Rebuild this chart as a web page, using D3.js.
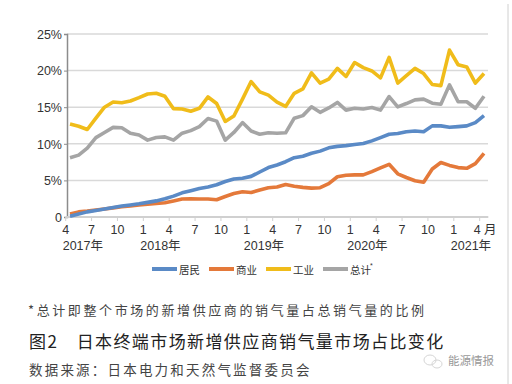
<!DOCTYPE html>
<html><head><meta charset="utf-8">
<script src="https://cdn.jsdelivr.net/npm/d3@7"></script>
<style>
html,body{margin:0;padding:0;background:#fff;}
svg{display:block;}
text{font-family:"Liberation Sans","Noto Sans CJK SC",sans-serif;}
.cjk{font-family:"Noto Sans CJK SC",sans-serif;}
</style></head>
<body>
<svg id="chart" width="512" height="384"></svg>
<script>
const months = ["2017-04","2017-05","2017-06","2017-07","2017-08","2017-09","2017-10","2017-11","2017-12",
"2018-01","2018-02","2018-03","2018-04","2018-05","2018-06","2018-07","2018-08","2018-09","2018-10","2018-11","2018-12",
"2019-01","2019-02","2019-03","2019-04","2019-05","2019-06","2019-07","2019-08","2019-09","2019-10","2019-11","2019-12",
"2020-01","2020-02","2020-03","2020-04","2020-05","2020-06","2020-07","2020-08","2020-09","2020-10","2020-11","2020-12",
"2021-01","2021-02","2021-03","2021-04"];
const seriesNames = ["居民","商业","工业","总计"];
const resident = [0.1,0.4,0.7,0.9,1.1,1.3,1.5,1.65,1.8,2.0,2.2,2.5,2.85,
3.3,3.6,3.9,4.1,4.4,4.85,5.2,5.3,5.55,6.15,6.75,7.1,
7.55,8.1,8.3,8.7,9.0,9.45,9.65,9.75,9.9,10.05,10.4,10.85,
11.3,11.4,11.65,11.75,11.65,12.45,12.45,12.25,12.35,12.45,12.9,13.85];
const commercial = [0.4,0.7,0.8,0.95,1.1,1.25,1.4,1.5,1.65,1.75,1.85,1.95,2.2,
2.45,2.5,2.45,2.45,2.35,2.8,3.2,3.45,3.35,3.7,4.0,4.1,
4.45,4.2,4.05,3.95,4.0,4.55,5.5,5.7,5.75,5.75,6.2,6.7,
7.2,5.9,5.4,4.95,4.75,6.55,7.45,7.05,6.75,6.65,7.3,8.7];
const industrial = [12.7,12.4,11.95,13.5,15.0,15.7,15.6,15.85,16.3,16.8,16.9,16.5,14.8,
14.75,14.45,14.85,16.4,15.5,13.05,13.8,16.1,18.5,17.1,16.65,15.7,
15.1,16.9,17.5,19.7,18.3,18.85,20.3,19.2,21.1,20.4,19.95,19.0,
21.8,18.3,19.3,20.3,19.6,18.1,17.95,22.8,20.8,20.5,18.3,19.6];
const total = [8.1,8.45,9.4,10.85,11.55,12.25,12.2,11.45,11.2,10.5,10.85,10.95,10.5,
11.45,11.8,12.35,13.45,13.1,10.5,11.55,12.9,11.75,11.3,11.5,11.45,
11.5,13.5,13.85,15.05,14.3,14.9,15.65,14.6,14.85,14.75,14.95,14.6,
16.45,15.05,15.5,16.0,16.1,15.55,15.4,18.05,15.75,15.75,14.85,16.5];
const yTicks = [0,5,10,15,20,25];
const colors = ["#5a8ac6","#e4793a","#f0bc1a","#a5a5a5"];

const svg = d3.select("#chart");
svg.append("rect").attr("width",512).attr("height",384).attr("fill","#fff");
// right frame line
svg.append("line").attr("x1",508).attr("x2",508).attr("y1",4).attr("y2",384).attr("stroke","#d0d0d0").attr("stroke-width",1);

const x = d3.scaleBand().domain(months).range([65.7,488.3]).padding(0);
const bw = x.bandwidth();
const cx = m => x(m) + bw/2;
const y = d3.scaleLinear().domain([0,25]).range([217,34]);

// gridlines
svg.append("g").selectAll("line").data(yTicks.filter(d=>d>0)).join("line")
  .attr("x1",67).attr("x2",488).attr("y1",d=>y(d)).attr("y2",d=>y(d))
  .attr("stroke","#d9d9d9").attr("stroke-width",1.5);

// y axis
const yAxis = d3.axisLeft(y).tickValues(yTicks).tickSize(3).tickPadding(2)
  .tickFormat(d=> d===0 ? "0" : d+"%");
const gy = svg.append("g").attr("transform","translate(67,0)").call(yAxis);
gy.select(".domain").attr("stroke","#8c8c8c").attr("stroke-width",1.5);
gy.selectAll(".tick line").attr("stroke","#8c8c8c");
gy.selectAll("text").attr("font-size",12.5).attr("fill","#333").attr("dy","0.34em")
  .style("font-family","'Liberation Sans',sans-serif");

// x axis line
svg.append("line").attr("x1",x.range()[0]).attr("x2",x.range()[1]).attr("y1",217).attr("y2",217)
  .attr("stroke","#d0d0d0").attr("stroke-width",2);
const tickMonths = months.filter((m,i)=>i%3===0);
svg.append("g").selectAll("line").data(tickMonths).join("line")
  .attr("x1",d=>x(d)).attr("x2",d=>x(d)).attr("y1",217).attr("y2",221)
  .attr("stroke","#d0d0d0").attr("stroke-width",1);
svg.append("g").selectAll("text").data(tickMonths).join("text")
  .attr("x",(d,i)=> i===tickMonths.length-1 ? x(d)-6 : x(d))
  .attr("y",234)
  .attr("text-anchor",(d,i)=> i===tickMonths.length-1 ? "start" : "middle")
  .attr("font-size",12.5).attr("fill","#333")
  .text((d,i)=> { const mm = +d.slice(5); return i===tickMonths.length-1 ? mm+" 月" : mm; });
// year labels
const yearMonths = months.filter((m,i)=> i===0 || m.slice(5)==="01");
svg.append("g").selectAll("text").data(yearMonths).join("text")
  .attr("x",d=>x(d)-3).attr("y",250).attr("font-size",12.5).attr("fill","#333")
  .text(d=>d.slice(0,4)+"年");

// lines
const allSeries = [resident, commercial, industrial, total];
const line = d3.line().x((d,i)=>cx(months[i])).y(d=>y(d));
const drawOrder = [3,2,1,0];
drawOrder.forEach(k=>{
  svg.append("path").datum(allSeries[k]).attr("d",line)
    .attr("fill","none").attr("stroke",colors[k]).attr("stroke-width",3.6)
    .attr("stroke-linejoin","round");
});

// legend
const legX = [152,209,266,323];
const lg = svg.append("g");
seriesNames.forEach((n,k)=>{
  lg.append("line").attr("x1",legX[k]).attr("x2",legX[k]+25).attr("y1",269).attr("y2",269)
    .attr("stroke",colors[k]).attr("stroke-width",4);
  lg.append("text").attr("class","cjk").attr("x",legX[k]+27).attr("y",273.5)
    .attr("font-size",10.5).attr("fill","#333").text(n);
});
lg.append("text").attr("x",370).attr("y",268).attr("font-size",7).attr("fill","#333").text("*");

// notes
svg.append("text").attr("class","cjk").attr("x",28).attr("y",315).attr("font-size",13)
  .attr("letter-spacing",2.6).attr("fill","#444").text("*总计即整个市场的新增供应商的销气量占总销气量的比例");
svg.append("text").attr("class","cjk").attr("x",29).attr("y",348).attr("font-size",17)
  .attr("letter-spacing",1.4).attr("fill","#222").attr("xml:space","preserve")
  .text("图2\u3000日本终端市场新增供应商销气量市场占比变化");
svg.append("text").attr("class","cjk").attr("x",29).attr("y",375).attr("font-size",13.5)
  .attr("letter-spacing",2.2).attr("fill","#444").text("数据来源：日本电力和天然气监督委员会");

// watermark
const wm = svg.append("g").attr("opacity",0.6);
wm.append("ellipse").attr("cx",430).attr("cy",360).attr("rx",6).attr("ry",5).attr("fill","none").attr("stroke","#bbb");
wm.append("ellipse").attr("cx",437).attr("cy",364).attr("rx",5).attr("ry",4).attr("fill","none").attr("stroke","#bbb");
svg.append("text").attr("class","cjk").attr("x",448).attr("y",365).attr("font-size",11.5)
  .attr("fill","#999").text("能源情报");
</script>
</body></html>
